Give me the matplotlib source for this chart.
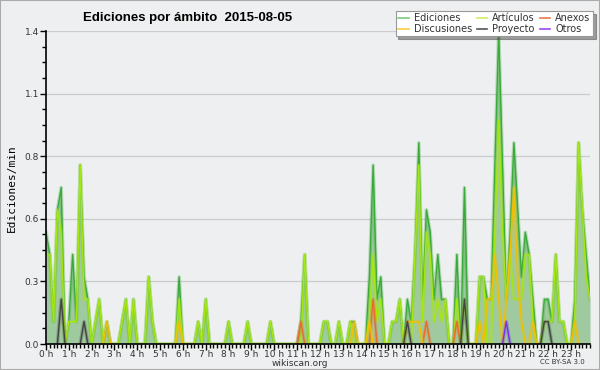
import numpy as np
import matplotlib
matplotlib.use("Agg")
import matplotlib.pyplot as plt
from matplotlib.patches import Rectangle

# Edits per 10-minute slot, 2015-08-05 (144 slots: 00:00 .. 23:50)
ediciones = [
    5, 4, 1, 6, 7, 0, 1, 4, 1, 8, 3, 2,
    0, 1, 2, 0, 1, 0, 0, 0, 1, 2, 0, 2,
    0, 0, 0, 3, 1, 0, 0, 0, 0, 0, 0, 3,
    0, 0, 0, 0, 1, 0, 2, 0, 0, 0, 0, 0,
    1, 0, 0, 0, 0, 1, 0, 0, 0, 0, 0, 1,
    0, 0, 0, 0, 0, 0, 0, 1, 4, 0, 0, 0,
    0, 1, 1, 0, 0, 1, 0, 0, 1, 1, 0, 0,
    0, 3, 8, 2, 3, 0, 0, 1, 1, 2, 0, 2,
    1, 4, 9, 2, 6, 5, 2, 4, 2, 2, 0, 0,
    4, 0, 7, 0, 0, 0, 3, 3, 2, 2, 8, 14,
    8, 2, 5, 9, 6, 3, 5, 4, 2, 0, 0, 2,
    2, 1, 4, 1, 1, 0, 0, 2, 9, 6, 4, 2,
]
articulos = [
    4, 4, 1, 6, 5, 0, 1, 1, 1, 8, 2, 2,
    0, 1, 2, 0, 0, 0, 0, 0, 1, 2, 0, 2,
    0, 0, 0, 3, 1, 0, 0, 0, 0, 0, 0, 2,
    0, 0, 0, 0, 1, 0, 2, 0, 0, 0, 0, 0,
    1, 0, 0, 0, 0, 1, 0, 0, 0, 0, 0, 1,
    0, 0, 0, 0, 0, 0, 0, 0, 4, 0, 0, 0,
    0, 1, 1, 0, 0, 1, 0, 0, 1, 0, 0, 0,
    0, 1, 4, 1, 2, 0, 0, 1, 1, 2, 0, 0,
    0, 4, 8, 1, 5, 4, 1, 2, 1, 2, 0, 0,
    2, 0, 2, 0, 0, 0, 3, 3, 0, 0, 5, 10,
    5, 2, 4, 2, 2, 2, 4, 4, 1, 0, 0, 1,
    1, 1, 4, 1, 1, 0, 0, 1, 9, 6, 3, 2,
]
# sparse series: slot -> edits
anexos = {67: 1, 86: 2, 100: 1, 108: 1}
discusiones = {16: 1, 35: 1, 81: 1, 85: 1, 95: 1, 96: 1, 97: 1, 98: 1,
               114: 1, 116: 2, 117: 2, 118: 4, 119: 2, 121: 2, 122: 4,
               123: 7, 124: 3, 125: 1, 128: 1, 139: 1}
proyecto = {4: 2, 10: 1, 95: 1, 110: 2, 131: 1, 132: 1}
otros = {121: 1}

hour_labels = [f"{h} h" for h in range(24)]
ytick_vals = [0, 0.28, 0.56, 0.84, 1.12, 1.4]
ytick_labels = ["0.0", "0.3", "0.6", "0.8", "1.1", "1.4"]

n = len(ediciones)
hours = np.arange(n) / 6.0


def per_min(series):
    if isinstance(series, dict):
        arr = np.zeros(n)
        for k, v in series.items():
            arr[k] = v
    else:
        arr = np.array(series, dtype=float)
    return arr / 10.0


bg = "#eeeff0"
fig = plt.figure(figsize=(6, 3.7), dpi=100, facecolor=bg)
ax = fig.add_axes([46 / 600, 26 / 370, 544 / 600, 313 / 370], facecolor=bg)

tot = per_min(ediciones)
ax.fill_between(hours, 0, tot, color="#9fc99f", lw=0, zorder=1)

series = [
    ("Ediciones", tot, "#3aaa3a", "#7ccc7c"),
    ("Artículos", per_min(articulos), "#a6e612", "#cdee66"),
    ("Anexos", per_min(anexos), "#ee6a2a", "#ee7a4a"),
    ("Discusiones", per_min(discusiones), "#f2c000", "#f6cc44"),
    ("Proyecto", per_min(proyecto), "#444444", "#555555"),
    ("Otros", per_min(otros), "#7a2ff0", "#9a4af0"),
]
handles = {}
for name, vals, col, legcol in series:
    y = vals.copy()
    if name != "Ediciones" and name != "Artículos":
        # hide flat zero runs
        keep = (y > 0) | (np.r_[y[1:], 0] > 0) | (np.r_[0, y[:-1]] > 0)
        y[~keep] = np.nan
    ax.plot(hours, y, color=col, lw=2.6, alpha=0.3, zorder=2)
    ax.plot(hours, y, color=col, lw=1.0, zorder=2)
    handles[name] = plt.Line2D([], [], color=legcol, lw=1.2)

ax.set_xlim(0, hours[-1])
ax.set_ylim(0, 1.4)
ax.set_xticks(range(24))
ax.set_xticklabels(hour_labels)
ax.set_xticks(hours, minor=True)
ax.set_yticks(ytick_vals)
ax.set_yticklabels(ytick_labels)
ax.set_yticks(np.arange(0, 1.41, 0.07), minor=True)
ax.tick_params(axis="both", which="major", length=4, width=1, labelsize=6.5,
               labelcolor="#333333", pad=1)
ax.tick_params(axis="x", which="major", pad=0.5)
ax.tick_params(axis="both", which="minor", length=3, width=1)
ax.yaxis.grid(True, color="#cccccc", lw=0.9)
ax.set_axisbelow(True)
for s in ["top", "right"]:
    ax.spines[s].set_visible(False)
for s in ["left", "bottom"]:
    ax.spines[s].set_linewidth(1.2)
    ax.spines[s].set_zorder(3)

fig.text(188 / 600, 1 - 18 / 370, "Ediciones por ámbito  2015-08-05",
         ha="center", va="center", fontsize=9.5, fontweight="bold",
         family="Liberation Sans")
fig.text(12 / 600, 1 - 188 / 370, "Ediciones/min", rotation=90,
         ha="center", va="center", fontsize=8, family="DejaVu Sans Mono")
fig.text(300 / 600, 1 - 363 / 370, "wikiscan.org", ha="center", va="center",
         fontsize=6.5, color="#333333")
fig.text(562 / 600, 1 - 362 / 370, "CC BY-SA 3.0", ha="center", va="center",
         fontsize=5, color="#333333")

order = ["Ediciones", "Discusiones", "Artículos", "Proyecto", "Anexos", "Otros"]
leg = fig.legend([handles[k] for k in order], order, ncol=3,
                 loc="upper right", bbox_to_anchor=(593 / 600, 1 - 11 / 370),
                 fontsize=7, frameon=True, fancybox=False, shadow=True,
                 handlelength=1.1, handletextpad=0.5, columnspacing=0.5,
                 labelspacing=0.05, borderpad=0.25, borderaxespad=0)
leg.get_frame().set_edgecolor("#999999")
leg.get_frame().set_linewidth(0.8)
for t in leg.get_texts():
    t.set_color("#333333")

fig.patches.append(Rectangle((0, 0), 1, 1, transform=fig.transFigure,
                             fill=False, edgecolor="#aaaaaa", lw=1.5))

fig.savefig("out.png", dpi=100, facecolor=bg)
